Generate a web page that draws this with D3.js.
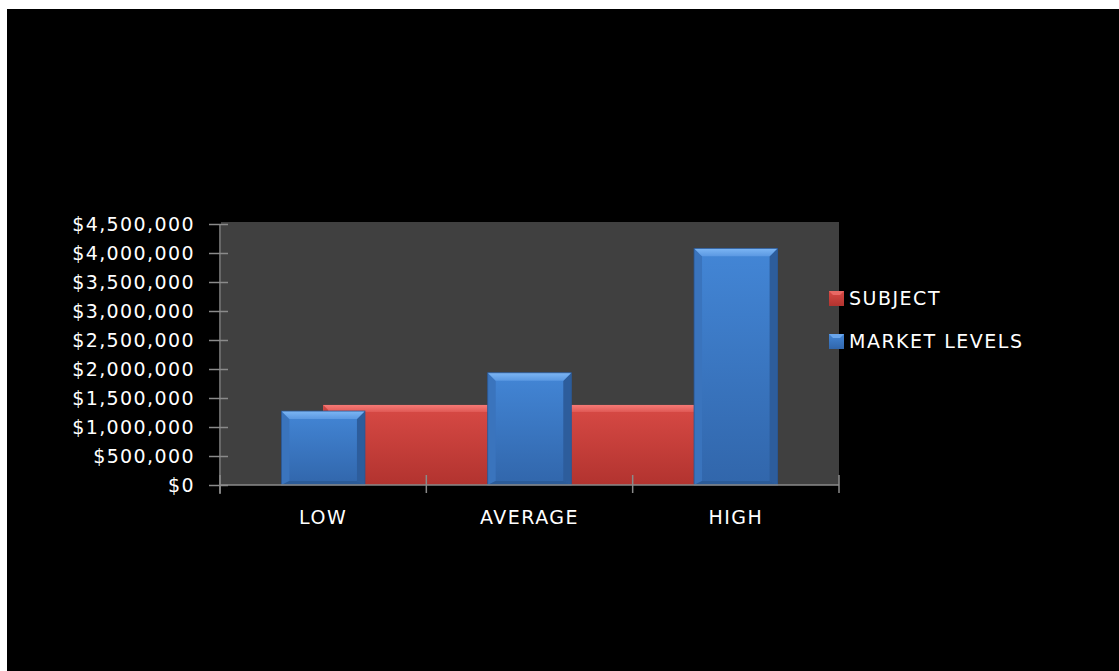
<!DOCTYPE html>
<html><head><meta charset="utf-8">
<script src="https://cdn.jsdelivr.net/npm/d3@7"></script>
<style>html,body{margin:0;padding:0;background:#fff;} svg{display:block}</style>
</head><body>
<svg id="c" width="1119" height="671"></svg>
<script>
const categories = ["LOW", "AVERAGE", "HIGH"];
const subjectValues = [1380000, 1380000, null];
const marketValues = [1275000, 1935000, 4080000];
const yTickValues = [0, 500000, 1000000, 1500000, 2000000, 2500000, 3000000, 3500000, 4000000, 4500000];
const seriesNames = ["SUBJECT", "MARKET LEVELS"];

const svg = d3.select("#c");
const W = 1119, H = 671;
const FONT = "DejaVu Sans";

// frame
svg.append("rect").attr("x", 7).attr("y", 9).attr("width", W - 7).attr("height", H - 9).attr("fill", "#000");

const plot = {left: 220, right: 839, top: 224, bottom: 485};
const x = d3.scaleBand().domain(categories).range([plot.left, plot.right]).padding(0);
const y = d3.scaleLinear().domain([0, 4500000]).range([plot.bottom, plot.top]);
const bw = x.bandwidth();

const defs = svg.append("defs");
function grad(id, stops) {
  const g = defs.append("linearGradient").attr("id", id).attr("x1", 0).attr("x2", 0).attr("y1", 0).attr("y2", 1);
  stops.forEach(s => g.append("stop").attr("offset", s[0]).attr("stop-color", s[1]));
}
grad("blueBody", [[0, "#4386d6"], [1, "#3166ab"]]);
grad("blueTop", [[0, "#7db6f4"], [1, "#5a98e2"]]);
grad("redBody", [[0, "#d84a45"], [1, "#b2332f"]]);
grad("redTop", [[0, "#f67a76"], [1, "#e05a56"]]);

// plot background
svg.append("rect").attr("x", plot.left + 1).attr("y", plot.top - 2)
  .attr("width", plot.right - plot.left - 1).attr("height", plot.bottom - plot.top + 2)
  .attr("fill", "#404040");

const gBars = svg.append("g");

// SUBJECT bars (behind)
categories.forEach((c, i) => {
  const v = subjectValues[i];
  if (v == null) return;
  const x0 = x(c) + bw / 2, x1 = x0 + bw, yt = y(v), yb = y(0);
  gBars.append("rect").attr("x", x0).attr("y", yt).attr("width", x1 - x0).attr("height", yb - yt).attr("fill", "url(#redBody)");
  gBars.append("rect").attr("x", x0).attr("y", yt).attr("width", x1 - x0).attr("height", 7).attr("fill", "url(#redTop)");
  gBars.append("polygon").attr("points", [[x0, yt], [x0 + 5, yt + 5], [x0 + 5, yb], [x0, yb]].join(" ")).attr("fill", "#c23c38").attr("opacity", 0.8);
});

// MARKET LEVELS bars
const mw = bw * 0.405;
categories.forEach((c, i) => {
  const v = marketValues[i];
  const cx = x(c) + bw / 2;
  const x0 = cx - mw / 2, x1 = cx + mw / 2, yt = y(v), yb = y(0);
  const b = 8;
  gBars.append("rect").attr("x", x0).attr("y", yt).attr("width", x1 - x0).attr("height", yb - yt).attr("fill", "url(#blueBody)");
  gBars.append("polygon").attr("points", [[x0, yt], [x0 + b, yt + b], [x0 + b, yb - b / 2], [x0, yb]].join(" ")).attr("fill", "#3a74bd");
  gBars.append("polygon").attr("points", [[x1, yt], [x1 - b, yt + b], [x1 - b, yb - b / 2], [x1, yb]].join(" ")).attr("fill", "#2d5d9c");
  gBars.append("polygon").attr("points", [[x0, yb], [x0 + b, yb - b / 2], [x1 - b, yb - b / 2], [x1, yb]].join(" ")).attr("fill", "#2b5b98");
  gBars.append("polygon").attr("points", [[x0, yt], [x1, yt], [x1 - b, yt + b], [x0 + b, yt + b]].join(" ")).attr("fill", "url(#blueTop)");
  gBars.append("rect").attr("x", x0).attr("y", yt).attr("width", x1 - x0).attr("height", yb - yt)
    .attr("fill", "none").attr("stroke", "#2a5590").attr("stroke-width", 0.8);
});

// Y axis
const fmt = v => "$" + d3.format(",")(v);
const yAxis = svg.append("g").attr("transform", `translate(${plot.left},0)`)
  .call(d3.axisLeft(y).tickValues(yTickValues).tickFormat(fmt).tickSize(11).tickPadding(14));
yAxis.select(".domain").attr("stroke", "#8a8a8a").attr("stroke-width", 1.5)
  .attr("d", `M0,${plot.top}V${plot.bottom + 9}`);
yAxis.selectAll(".tick line").attr("stroke", "#8a8a8a").attr("stroke-width", 1.5).attr("x1", -11).attr("x2", 8);
yAxis.selectAll(".tick text").attr("fill", "#fff").attr("font-family", FONT).attr("font-size", 19)
  .attr("letter-spacing", 1.4).attr("dy", "0.36em");

// X axis
const xAxis = svg.append("g").attr("transform", `translate(0,${plot.bottom})`)
  .call(d3.axisBottom(x).tickSize(0).tickPadding(26));
xAxis.select(".domain").attr("stroke", "#8a8a8a").attr("stroke-width", 1.5).attr("d", `M${plot.left},0H${plot.right}`);
xAxis.selectAll(".tick text").attr("fill", "#fff").attr("font-family", FONT).attr("font-size", 19).attr("letter-spacing", 1.5);
const bounds = categories.map(c => x(c)).concat([x.range()[1]]);
xAxis.selectAll(".bound").data(bounds).join("line").attr("class", "bound")
  .attr("x1", d => d).attr("x2", d => d).attr("y1", -10).attr("y2", 8)
  .attr("stroke", "#8a8a8a").attr("stroke-width", 1.5);

// Legend
const legend = svg.append("g").attr("transform", "translate(829,291)");
const legendGrad = [["url(#redBody)", "#e86864"], ["url(#blueBody)", "#6aa6ec"]];
seriesNames.forEach((n, i) => {
  const g = legend.append("g").attr("transform", `translate(0,${i * 43})`);
  g.append("rect").attr("width", 15).attr("height", 15).attr("fill", legendGrad[i][0]);
  g.append("polygon").attr("points", "0,0 15,0 11,4 4,4").attr("fill", legendGrad[i][1]);
  g.append("text").attr("x", 20).attr("y", 7.5).attr("dy", "0.36em").attr("fill", "#fff")
    .attr("font-family", FONT).attr("font-size", 19).attr("letter-spacing", 1.5).text(n);
});
</script>
</body></html>
